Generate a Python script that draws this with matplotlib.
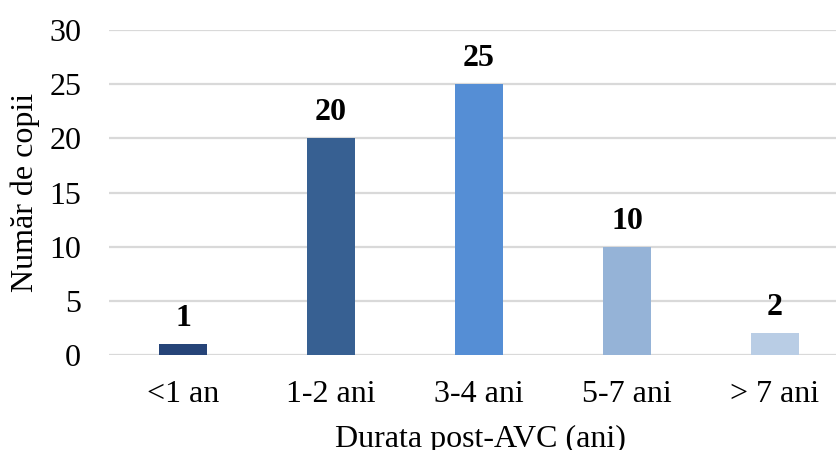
import matplotlib
matplotlib.use("Agg")
import matplotlib.pyplot as plt

categories = ["<1 an", "1-2 ani", "3-4 ani", "5-7 ani", "> 7 ani"]
counts = [1, 20, 25, 10, 2]
bar_colors = ["#264478", "#376092", "#558ed5", "#95b3d7", "#b9cde5"]
y_ticks = [0, 5, 10, 15, 20, 25, 30]

plt.rcParams["font.family"] = ["Liberation Serif", "DejaVu Serif"]
FS = 23

fig = plt.figure(figsize=(8.36, 4.50), dpi=100)
ax = fig.add_axes([109 / 836, 95 / 450, 740 / 836, 325 / 450])

x = range(len(categories))
ax.bar(x, counts, width=0.32, color=bar_colors, zorder=3)

for xi, v in zip(x, counts):
    ax.annotate(str(v), (xi, v), xytext=(0, 8), textcoords="offset points",
                ha="center", va="bottom", fontsize=FS, fontweight="bold",
                color="black")

ax.set_xlim(-0.5, len(categories) - 0.5)
ax.set_ylim(0, 30)
ax.set_yticks(y_ticks)
ax.set_xticks(list(x))
ax.set_xticklabels(categories)
ax.tick_params(axis="both", length=0, labelsize=FS, colors="black")
ax.tick_params(axis="y", pad=20)
ax.tick_params(axis="x", pad=18)

ax.grid(axis="y", color="#d9d9d9", linewidth=1.6, zorder=0)
for s in ax.spines.values():
    s.set_visible(False)

ax.set_ylabel("Număr de copii", fontsize=FS)
ax.yaxis.set_label_coords(-(109 - 25) / 740, 0.5)
ax.yaxis.label.set_va("center")
ax.set_xlabel("Durata post-AVC (ani)", fontsize=FS)
ax.xaxis.set_label_coords((480 - 109) / 740, -(439 - 355) / 325)
ax.xaxis.label.set_va("center")

fig.savefig("out.png", dpi=100)
